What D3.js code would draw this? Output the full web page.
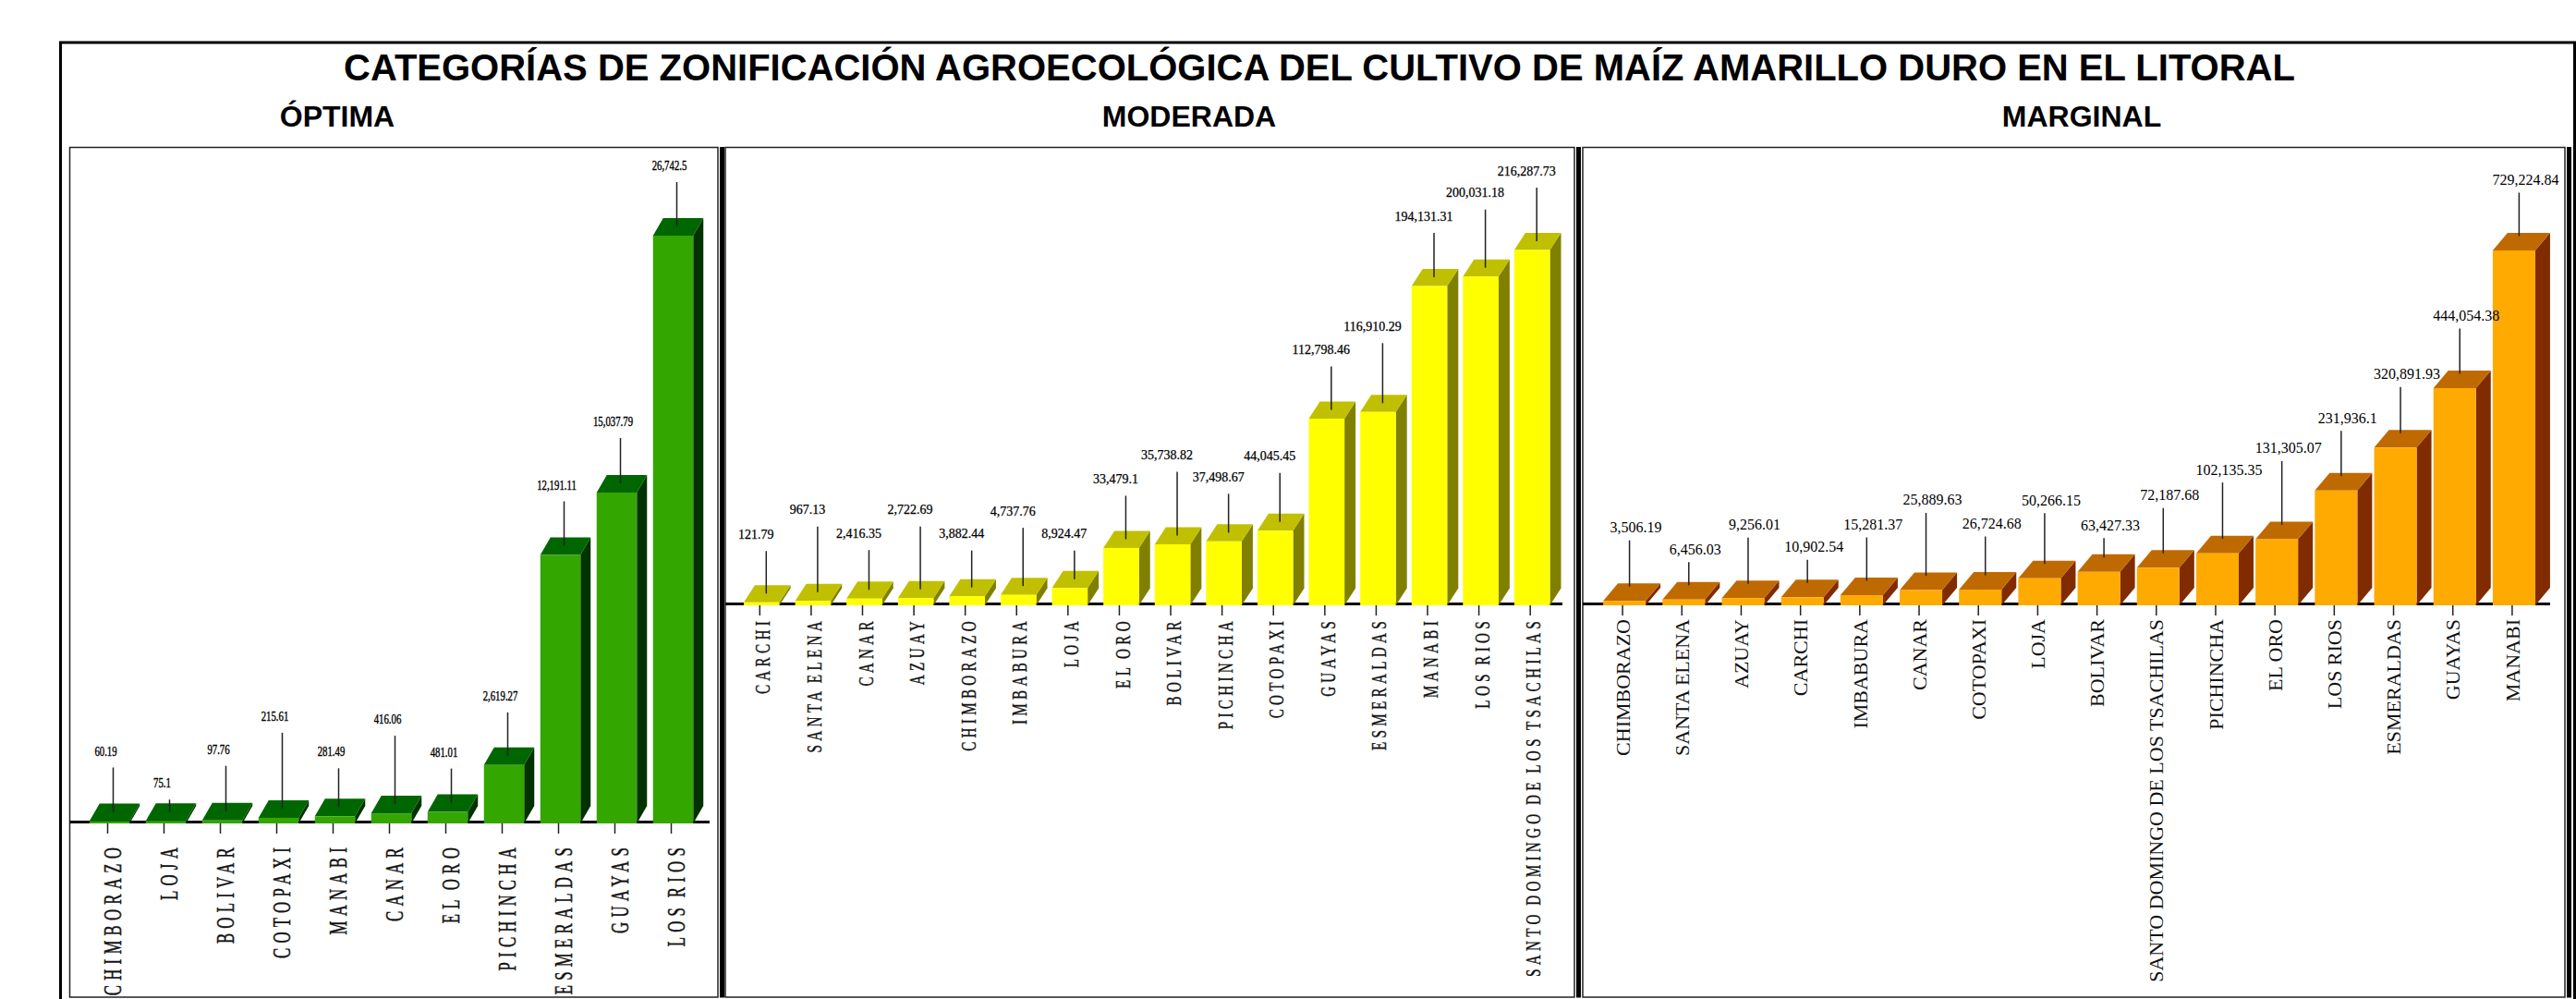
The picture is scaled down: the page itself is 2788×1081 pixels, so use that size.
<!DOCTYPE html>
<html>
<head>
<meta charset="utf-8">
<title>Zonificación maíz amarillo duro</title>
<script src="https://cdn.jsdelivr.net/npm/d3@7"></script>
<style>
  html, body { margin: 0; padding: 0; background: #fff; overflow: hidden; }
  svg { display: block; }
</style>
</head>
<body>
<div class="visData"></div>
<script>
const w = 2788;
const h = 1081;

// data
const optimaCategories = ["CHIMBORAZO", "LOJA", "BOLIVAR", "COTOPAXI", "MANABI", "CANAR", "EL ORO", "PICHINCHA", "ESMERALDAS", "GUAYAS", "LOS RIOS"];
const optimaValues = [60.19, 75.1, 97.76, 215.61, 281.49, 416.06, 481.01, 2619.27, 12191.11, 15037.79, 26742.5];

const moderadaCategories = ["CARCHI", "SANTA ELENA", "CANAR", "AZUAY", "CHIMBORAZO", "IMBABURA", "LOJA", "EL ORO", "BOLIVAR", "PICHINCHA", "COTOPAXI", "GUAYAS", "ESMERALDAS", "MANABI", "LOS RIOS", "SANTO DOMINGO DE LOS TSACHILAS"];
const moderadaValues = [121.79, 967.13, 2416.35, 2722.69, 3882.44, 4737.76, 8924.47, 33479.1, 35738.82, 37498.67, 44045.45, 112798.46, 116910.29, 194131.31, 200031.18, 216287.73];

const marginalCategories = ["CHIMBORAZO", "SANTA ELENA", "AZUAY", "CARCHI", "IMBABURA", "CANAR", "COTOPAXI", "LOJA", "BOLIVAR", "SANTO DOMINGO DE LOS TSACHILAS", "PICHINCHA", "EL ORO", "LOS RIOS", "ESMERALDAS", "GUAYAS", "MANABI"];
const marginalValues = [3506.19, 6456.03, 9256.01, 10902.54, 15281.37, 25889.63, 26724.68, 50266.15, 63427.33, 72187.68, 102135.35, 131305.07, 231936.1, 320891.93, 444054.38, 729224.84];

// leader line lengths, the labels are staggered in the original
const optimaLeaders = [48, 13, 49, 82, 42, 74, 37, 47, 48, 49, 48];
const moderadaLeaders = [46, 71, 43, 68, 40, 63, 31, 47, 69, 42, 53, 47, 65, 48, 63, 58];
const marginalLeaders = [50, 25, 50, 25, 47, 68, 42, 55, 21, 49, 61, 69, 49, 50, 49, 47];

const title = "CATEGORÍAS DE ZONIFICACIÓN AGROECOLÓGICA DEL CULTIVO DE MAÍZ AMARILLO DURO EN EL LITORAL";

const panels = [
  {
    name: "ÓPTIMA", nameX: 365, id: "optima",
    categories: optimaCategories, values: optimaValues, leaders: optimaLeaders,
    frame: [75.5, 159.5, 777, 1079], axisEnd: 768, base: 891, lift: 1, top: 255,
    range: [88, 759], gap: 0.287, depth: [11, 19], front: "#33A600", roof: "#006600", side: "#003300",
    leaderX: 4, leaderGap: 10, labelX: -8, labelY: 18, valueFont: "15px 'Liberation Serif'", valueScale: 0.72, valueWeight: 0.4,
    catFont: "27px 'Liberation Serif'", catStart: 21, catX: 5, catScale: 0.62, catWeight: 0.5, letterSpace: 8.5, wordSpace: -6, tickLen: 11
  },
  {
    name: "MODERADA", nameX: 1287, id: "moderada",
    categories: moderadaCategories, values: moderadaValues, leaders: moderadaLeaders,
    frame: [785, 159.5, 1704, 1079], axisEnd: 1691, base: 655, lift: 3, top: 270.5,
    range: [796.5, 1686], gap: 0.306, depth: [12, 18.5], front: "#FFFF00", roof: "#C0C000", side: "#808000",
    leaderX: 5, leaderGap: 9.5, labelX: -11, labelY: 18, valueFont: "14px 'Liberation Serif'", valueScale: 1, valueWeight: 0.25,
    catFont: "23px 'Liberation Serif'", catStart: 13, catX: 3, catScale: 0.66, catWeight: 0.4, letterSpace: 6.5, wordSpace: -4, tickLen: 11
  },
  {
    name: "MARGINAL", nameX: 2253, id: "marginal",
    categories: marginalCategories, values: marginalValues, leaders: marginalLeaders,
    frame: [1713, 159.5, 2776, 1079], axisEnd: 2760, base: 655, lift: 3, top: 271,
    range: [1726, 2753], gap: 0.283, depth: [16, 19], front: "#FFAA00", roof: "#BF6A00", side: "#802B00",
    leaderX: 5.5, leaderGap: 15.5, labelX: 7, labelY: 14, valueFont: "16px 'Liberation Serif'", valueScale: 1, valueWeight: 0,
    catFont: "22px 'Liberation Serif'", catStart: 15, catX: 0, catScale: 1, catWeight: 0, letterSpace: 0, wordSpace: 0, tickLen: 11
  }
];

const svg = d3
  .select(".visData")
  .append("svg")
  .attr("width", w)
  .attr("height", h);

svg.append("rect").attr("width", w).attr("height", h).attr("fill", "white");

// outer frame runs off the bottom of the picture
svg
  .append("path")
  .attr("d", d3.line()([[65.5, h + 5], [65.5, 46], [2786.5, 46], [2786.5, h + 5]]))
  .attr("fill", "none")
  .attr("stroke", "black")
  .attr("stroke-width", 3);

svg
  .append("text")
  .attr("x", 1428)
  .attr("y", 87)
  .attr("text-anchor", "middle")
  .style("font", "bold 40px 'Liberation Sans'")
  .text(title);

svg
  .selectAll(".panelName")
  .data(panels)
  .enter()
  .append("text")
  .attr("class", "panelName")
  .attr("x", (d) => d.nameX)
  .attr("y", 137)
  .attr("text-anchor", "middle")
  .style("font", "bold 32px 'Liberation Sans'")
  .text((d) => d.name);

panels.forEach((p) => {
  const [x0, y0, x1, y1] = p.frame;

  svg
    .append("clipPath")
    .attr("id", "clip-" + p.id)
    .append("rect")
    .attr("x", x0)
    .attr("y", y0)
    .attr("width", x1 - x0)
    .attr("height", y1 - y0);

  svg
    .append("rect")
    .attr("x", x0)
    .attr("y", y0)
    .attr("width", x1 - x0)
    .attr("height", y1 - y0)
    .attr("fill", "none")
    .attr("stroke", "#222")
    .attr("stroke-width", 1.5);

  // thick rule right of the panel
  svg
    .append("rect")
    .attr("x", x1 + 2)
    .attr("y", y0 - 0.5)
    .attr("width", 5)
    .attr("height", y1 - y0 + 1)
    .attr("fill", "black");

  const g = svg.append("g").attr("clip-path", `url(#clip-${p.id})`);

  const xScale = d3
    .scaleBand()
    .domain(p.categories)
    .range(p.range)
    .paddingInner(p.gap)
    .paddingOuter(p.gap / 2);

  // zero sits a little above the axis, small bars still show a front face
  const yScale = d3
    .scaleLinear()
    .domain([0, d3.max(p.values)])
    .range([p.base - p.lift, p.top]);

  const rows = p.categories.map((c, i) => ({
    category: c,
    value: p.values[i],
    leader: p.leaders[i]
  }));

  // baseline
  g.append("line")
    .attr("x1", x0)
    .attr("x2", p.axisEnd)
    .attr("y1", p.base - 1.5)
    .attr("y2", p.base - 1.5)
    .attr("stroke", "black")
    .attr("stroke-width", 3);

  const [dx, dy] = p.depth;
  const bw = xScale.bandwidth();
  const polygon = d3.line();

  const bars = g
    .selectAll(".bar")
    .data(rows)
    .enter()
    .append("g")
    .attr("class", "bar");

  bars
    .append("path")
    .attr("fill", p.side)
    .attr("d", (d) => {
      const x = xScale(d.category) + bw;
      const y = yScale(d.value);
      return polygon([[x, p.base], [x, y], [x + dx, y - dy], [x + dx, p.base - dy]]) + "Z";
    });

  bars
    .append("path")
    .attr("fill", p.roof)
    .attr("d", (d) => {
      const x = xScale(d.category);
      const y = yScale(d.value);
      return polygon([[x, y], [x + dx, y - dy], [x + bw + dx, y - dy], [x + bw, y]]) + "Z";
    });

  bars
    .append("rect")
    .attr("fill", p.front)
    .attr("x", (d) => xScale(d.category))
    .attr("y", (d) => yScale(d.value))
    .attr("width", bw)
    .attr("height", (d) => p.base - yScale(d.value));

  // leaders and value labels go over all the bars
  const leaderX = (d) => xScale(d.category) + bw / 2 + p.leaderX;
  const leaderBottom = (d) => yScale(d.value) - p.leaderGap;

  g.selectAll(".leader")
    .data(rows)
    .enter()
    .append("line")
    .attr("class", "leader")
    .attr("x1", leaderX)
    .attr("x2", leaderX)
    .attr("y1", leaderBottom)
    .attr("y2", (d) => leaderBottom(d) - d.leader)
    .attr("stroke", "#222")
    .attr("stroke-width", 1.5);

  g.selectAll(".valueLabel")
    .data(rows)
    .enter()
    .append("text")
    .attr("class", "valueLabel")
    .attr("transform", (d) => {
      const lx = leaderX(d) + p.labelX;
      const ly = leaderBottom(d) - d.leader - p.labelY;
      return `translate(${lx},${ly}) scale(${p.valueScale},1)`;
    })
    .attr("text-anchor", "middle")
    .attr("dominant-baseline", "central")
    .attr("stroke", "black")
    .attr("stroke-width", p.valueWeight)
    .style("font", p.valueFont)
    .text((d) => d3.format(",")(d.value));

  // category axis
  const xAxis = d3.axisBottom(xScale).tickSize(p.tickLen).tickSizeOuter(0);

  const axis = g
    .append("g")
    .attr("transform", `translate(-2,${p.base})`)
    .call(xAxis);

  axis.select(".domain").remove();
  axis.selectAll(".tick line").attr("stroke", "#222").attr("stroke-width", 1.5);
  axis
    .selectAll(".tick text")
    .attr("transform", `translate(${p.catX},${p.catStart}) rotate(-90) scale(${p.catScale},1)`)
    .attr("x", 0)
    .attr("y", 0)
    .attr("dy", "0.35em")
    .attr("text-anchor", "end")
    .attr("fill", "#111")
    .attr("stroke", "#111")
    .attr("stroke-width", p.catWeight)
    .style("font", p.catFont)
    .style("letter-spacing", p.letterSpace + "px")
    .style("word-spacing", p.wordSpace + "px");
});
</script>
</body>
</html>
